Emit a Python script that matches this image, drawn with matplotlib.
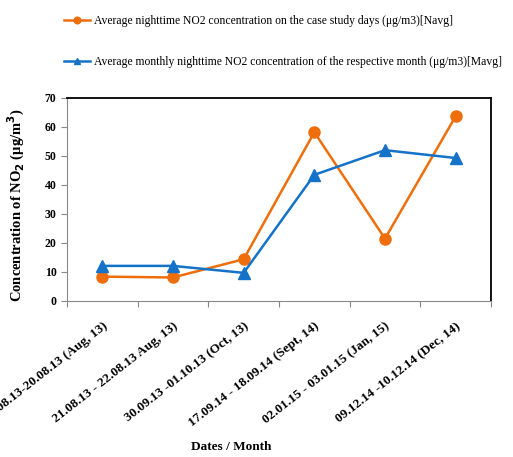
import matplotlib.pyplot as plt

plt.rcParams['font.family'] = 'Liberation Serif'

dates = ["19.08.13-20.08.13 (Aug, 13)", "21.08.13 - 22.08.13 Aug, 13)",
         "30.09.13 -01.10.13 (Oct, 13)", "17.09.14 - 18.09.14 (Sept, 14)",
         "02.01.15 - 03.01.15 (Jan, 15)", "09.12.14 -10.12.14 (Dec, 14)"]
navg = [8.4, 8.1, 14.4, 58.2, 21.5, 63.7]
mavg = [12.1, 12.1, 9.7, 43.5, 52, 49.3]

fig = plt.figure(figsize=(5.13, 4.57), dpi=100)
ax = fig.add_axes([0.1306, 0.3414, 0.8265, 0.4442])

x = range(len(dates))
l1, = ax.plot(x, navg, color='#EE6E0C', marker='o', markersize=8, lw=1.8,
              label='Average nighttime NO2 concentration on the case study days (\u03bcg/m3)[Navg]')
l2, = ax.plot(x, mavg, color='#1473C8', marker='^', markersize=8, lw=1.8,
              label='Average monthly nighttime NO2 concentration of the respective month (\u03bcg/m3)[Mavg]')

ax.set_xlim(-0.5, 5.5)
ax.set_ylim(0, 70)
ax.set_yticks(range(0, 71, 10))
ax.set_xticks([i + 0.5 for i in range(-1, 6)], minor=False)
ax.set_xticklabels([])
ax.set_xticks(list(x), minor=True)
ax.set_xticklabels(dates, minor=True, rotation=38, ha='right', va='top',
                   rotation_mode='anchor', fontsize=9.5, fontweight='bold')
ax.tick_params(axis='x', which='minor', length=0, pad=14)
ax.tick_params(axis='x', which='major', length=4, color='#888888')
ax.tick_params(axis='y', length=4, color='#888888', labelsize=8.5)
for t in ax.get_yticklabels():
    t.set_fontweight('bold')

ax.spines['left'].set_color('#888888')
ax.spines['bottom'].set_color('#888888')
ax.spines['top'].set_linewidth(1.3)
ax.spines['right'].set_linewidth(1.3)

ax.set_ylabel('Concentration of NO$_\\mathbf{2}$ (\u03bcg/m$^\\mathbf{3}$)', fontsize=10.5,
              fontweight='bold')
ax.yaxis.set_label_coords(-0.095, 0.47)
fig.text(231 / 513, 1 - 447 / 457, 'Dates / Month', fontsize=9.5, fontweight='bold',
         ha='center', va='center')

fig.legend(handles=[l1, l2], loc='upper left', bbox_to_anchor=(0.105, 0.99), frameon=False,
           fontsize=8.4, handlelength=2.2, handletextpad=0.3, labelspacing=2.5,
           markerscale=0.6)

fig.savefig('out.png', dpi=100)
